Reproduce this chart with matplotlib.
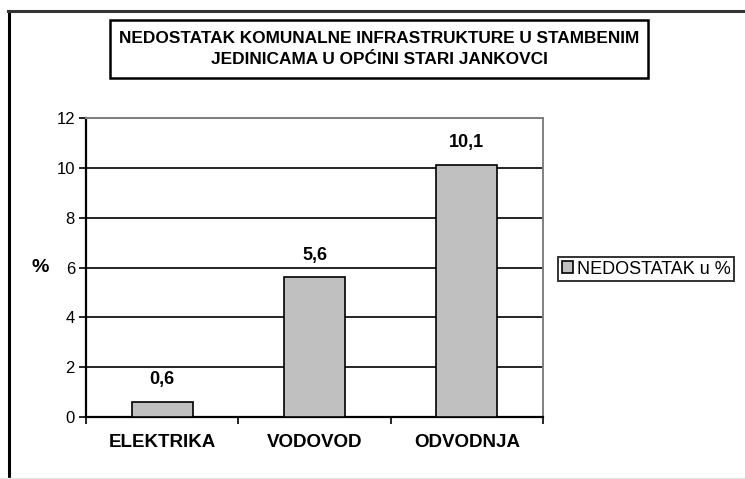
import matplotlib
matplotlib.use("Agg")
import matplotlib.pyplot as plt
from matplotlib.lines import Line2D
from matplotlib.patches import Rectangle
import numpy as np

categories = ["ELEKTRIKA", "VODOVOD", "ODVODNJA"]
values = [0.6, 5.6, 10.1]
value_labels = ["0,6", "5,6", "10,1"]
yticks = [0, 2, 4, 6, 8, 10, 12]
series_name = "NEDOSTATAK u %"
title = "NEDOSTATAK KOMUNALNE INFRASTRUKTURE U STAMBENIM\nJEDINICAMA U OPĆINI STARI JANKOVCI"

plt.rcParams['font.family'] = ['Liberation Sans', 'DejaVu Sans']

W, H = 745, 479
fig = plt.figure(figsize=(W/100, H/100), dpi=100)

def fx(px):
    return px / W

def fy(py):
    return 1 - py / H

# outer frame (left and top visible, right/bottom cropped)
fig.add_artist(Line2D([fx(9), fx(9)], [fy(11), fy(479)], color='black', linewidth=2.2,
                      transform=fig.transFigure))
fig.add_artist(Line2D([fx(8), fx(745)], [fy(11), fy(11)], color='#333333', linewidth=2.2,
                      transform=fig.transFigure))
fig.add_artist(Line2D([fx(0), fx(745)], [fy(478), fy(478)], color='#e6e6e6', linewidth=1,
                      transform=fig.transFigure))

ax = fig.add_axes([fx(86), fy(417), 457/W, 299/H])
x = np.arange(len(categories))
bars = ax.bar(x, values, width=0.40, color='#C0C0C0', edgecolor='black', linewidth=1.2,
              label=series_name, zorder=3)
ax.set_xlim(-0.5, 2.5)
ax.set_ylim(0, 12)
ax.set_yticks(yticks)
ax.set_yticklabels([str(t) for t in yticks], fontsize=12)
ax.yaxis.grid(True, color='black', linewidth=1.2, zorder=0)
ax.set_axisbelow(True)
ax.tick_params(axis='y', direction='out', length=5, width=1.2, pad=3)

ax.set_xticks(x)
ax.set_xticklabels(categories, fontsize=13.5, fontweight='bold')
ax.tick_params(axis='x', which='major', length=0, pad=12)
ax.set_xticks([-0.5, 0.5, 1.5, 2.5], minor=True)
ax.tick_params(axis='x', which='minor', direction='out', length=5, width=1.2)

for s in ['left', 'bottom']:
    ax.spines[s].set_linewidth(1.6)
    ax.spines[s].set_color('black')
for s in ['top', 'right']:
    ax.spines[s].set_linewidth(1.4)
    ax.spines[s].set_color('#808080')

for xi, v, lab in zip(x, values, value_labels):
    ax.annotate(lab, (xi, v), xytext=(0, 10), textcoords='offset points',
                ha='center', va='bottom', fontsize=13, fontweight='bold')

fig.text(fx(40), fy(268), "%", ha='center', va='center', fontsize=14, fontweight='bold')

# title box
fig.add_artist(Rectangle((fx(110), fy(78)), 538/W, 58/H, transform=fig.transFigure,
                         facecolor='white', edgecolor='black', linewidth=1.8))
fig.text(fx(379), fy(49), title, ha='center', va='center', fontsize=12.4, fontweight='bold',
         linespacing=1.42)

leg = fig.legend(handles=[bars], labels=[series_name], loc='center left',
                 bbox_to_anchor=(fx(558), fy(269)), frameon=True, fancybox=False,
                 fontsize=13, handlelength=0.65, handleheight=0.65, handletextpad=0.2,
                 borderpad=0.2, borderaxespad=0)
leg.get_frame().set_edgecolor('black')
leg.get_frame().set_linewidth(1.4)

fig.savefig("out.png", dpi=100)
